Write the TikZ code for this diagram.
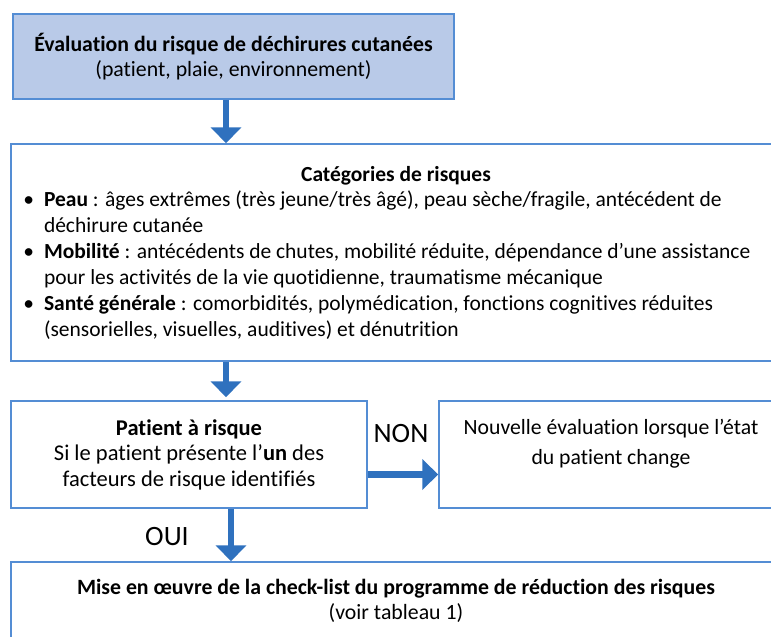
\documentclass[tikz,border=0pt]{standalone}
\usepackage{fontspec}
\setmainfont{Carlito}[Ligatures=NoCommon]
\usepackage{enumitem}
\usetikzlibrary{arrows.meta,positioning}

\definecolor{boxline}{RGB}{84,141,212}
\definecolor{boxfill}{RGB}{185,202,232}
\definecolor{arrowblue}{RGB}{47,113,190}

\tikzset{
  stepbox/.style={draw=boxline, line width=1.5pt, rectangle, inner sep=0pt, align=center},
  bigarrow/.style={draw=arrowblue, line width=6.5pt, -{Triangle[length=16pt,width=30pt]}},
  widetext/.style={font=\fontsize{21.7}{30}\selectfont},
  answer/.style={font=\fontsize{28}{30}\selectfont},
}

\begin{document}
\begin{tikzpicture}[x=1pt, y=-1pt, font=\fontsize{21.8}{25.5}\selectfont]
\useasboundingbox (0,0) rectangle (771,637);
\clip (0,0) rectangle (771,637);

% nodes
\node[stepbox, fill=boxfill, minimum width=441pt, minimum height=85pt] (eval) at (233.5,56.5)
  {\textbf{Évaluation du risque de déchirures cutanées}\\(patient, plaie, environnement)};

\node[stepbox, minimum width=770pt, minimum height=217pt, font=\fontsize{21.5}{25.5}\selectfont] (cat) at (396,252.5) {%
  \begin{minipage}{750pt}
  \centering\textbf{Catégories de risques}\par
  \raggedright
  \begin{itemize}[leftmargin=23pt, labelsep=10pt, itemsep=1pt, topsep=0pt, parsep=0pt, partopsep=0pt]
  \item \textbf{Peau} : âges extrêmes (très jeune/très âgé), peau sèche/fragile, antécédent de\newline déchirure cutanée
  \item \textbf{Mobilité} : antécédents de chutes, mobilité réduite, dépendance d’une assistance\newline pour les activités de la vie quotidienne, traumatisme mécanique
  \item \textbf{Santé générale} : comorbidités, polymédication, fonctions cognitives réduites\newline (sensorielles, visuelles, auditives) et dénutrition
  \end{itemize}
  \end{minipage}};

\node[stepbox, minimum width=356pt, minimum height=107pt, font=\fontsize{22.5}{25.5}\selectfont] (patient) at (189,454.5)
  {\textbf{Patient à risque}\\Si le patient présente l’\textbf{un} des\\facteurs de risque identifiés};

\node[stepbox, widetext, minimum width=344pt, minimum height=107pt] (nouvelle) at (611,454.5)
  {\raisebox{11pt}[\height][\depth]{\begin{tabular}{@{}c@{}}Nouvelle évaluation lorsque l’état\\du patient change\end{tabular}}};

\node[stepbox, minimum width=770pt, minimum height=78pt] (mise) at (396,601)
  {\textbf{Mise en œuvre de la check-list du programme de réduction des risques}\\(voir tableau 1)};

\node[answer] (non) at (401,434) {NON};
\node[answer] (oui) at (167,537) {OUI};

% arrows
\draw[bigarrow] ([xshift=-7.5pt]eval.south) -- ([xshift=-7.5pt]eval.south |- cat.north);
\draw[bigarrow] ([xshift=37pt]patient.north |- cat.south) -- ([xshift=37pt,yshift=3pt]patient.north);
\draw[bigarrow] ([yshift=-20pt]patient.east) -- ([yshift=-20pt]patient.east -| nouvelle.west);
\draw[bigarrow] ([xshift=42pt]patient.south) -- ([xshift=42pt]patient.south |- mise.north);

\end{tikzpicture}
\end{document}
